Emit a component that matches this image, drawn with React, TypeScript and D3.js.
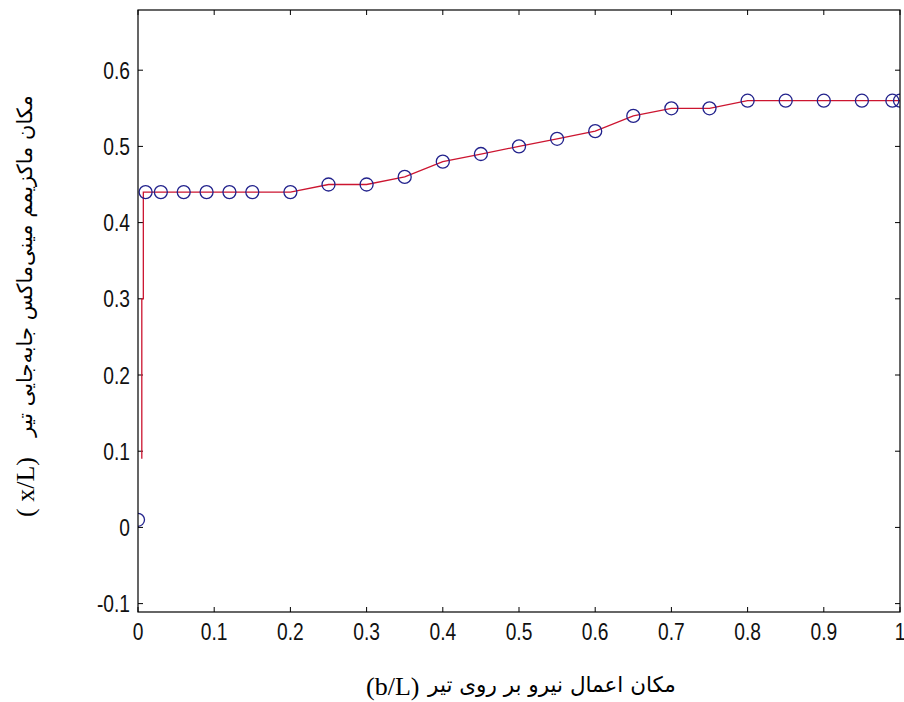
import React from "react";
import * as d3 from "d3";

// ---- data ----
const loadPos: number[] = [0, 0.01, 0.03, 0.06, 0.09, 0.12, 0.15, 0.2, 0.25, 0.3, 0.35, 0.4, 0.45, 0.5, 0.55, 0.6, 0.65, 0.7, 0.75, 0.8, 0.85, 0.9, 0.95, 0.99, 1.0];
const maxPos: number[] = [0.01, 0.44, 0.44, 0.44, 0.44, 0.44, 0.44, 0.44, 0.45, 0.45, 0.46, 0.48, 0.49, 0.5, 0.51, 0.52, 0.54, 0.55, 0.55, 0.56, 0.56, 0.56, 0.56, 0.56, 0.56];
// red curve starts slightly right of zero
const curveStartX: number[] = [0.005, 0.005, 0.007, 0.007];
const curveStartY: number[] = [0.09, 0.3, 0.3, 0.44];
const xTicks: number[] = [0, 0.1, 0.2, 0.3, 0.4, 0.5, 0.6, 0.7, 0.8, 0.9, 1];
const yTicks: number[] = [-0.1, 0, 0.1, 0.2, 0.3, 0.4, 0.5, 0.6];
const xDomain: [number, number] = [0, 1];
const yDomain: [number, number] = [-0.111, 0.679];
const xLabelFa = "مکان اعمال نیرو بر روی تیر";
const xLabelVar = "(b/L)";
const yLabelFa = "مکان ماکزیمم مینی‌ماکس جابه‌جایی تیر";
const yLabelVar = "( x/L)";

const W = 904;
const H = 702;
const L = 138, R = 900, T = 10, B = 612;

const fmt = (v: number) => {
  if (Math.abs(v) < 1e-9) return "0";
  if (Math.abs(v - 1) < 1e-9) return "1";
  return d3.format(".1f")(v).replace("\u2212", "-");
};

export default function App() {
  const x = d3.scaleLinear().domain(xDomain).range([L, R]);
  const y = d3.scaleLinear().domain(yDomain).range([B, T]);

  const redPts: [number, number][] = [
    ...curveStartX.map((v, i) => [v, curveStartY[i]] as [number, number]),
    ...loadPos.slice(1).map((v, i) => [v, maxPos[i + 1]] as [number, number]),
  ];
  const line = d3
    .line<[number, number]>()
    .x((d) => x(d[0]))
    .y((d) => y(d[1]))
    .curve(d3.curveLinear);

  const tickLen = 5;
  const tickFont = "'Liberation Sans', Arial, sans-serif";
  const faFont = "'DejaVu Sans', sans-serif";
  const serif = "'Liberation Serif', 'Times New Roman', serif";

  return (
    <svg
      width={W}
      height={H}
      style={{ position: "absolute", left: 0, top: 0, background: "#fff" }}
    >
      <rect x={0} y={0} width={W} height={H} fill="#fff" />
      <defs>
        <clipPath id="plotclip">
          <rect x={L} y={T} width={R - L} height={B - T} />
        </clipPath>
      </defs>

      {/* ticks */}
      {xTicks.map((t) => (
        <g key={"xt" + t}>
          <line x1={x(t)} x2={x(t)} y1={B} y2={B - tickLen} stroke="#000" strokeWidth={1} />
          <line x1={x(t)} x2={x(t)} y1={T} y2={T + tickLen} stroke="#000" strokeWidth={1} />
          <text
            transform={`translate(${x(t)},${B + 28}) scale(0.8,1)`}
            textAnchor="middle"
            fontFamily={tickFont}
            fontSize={24}
            fill="#111"
          >
            {fmt(t)}
          </text>
        </g>
      ))}
      {yTicks.map((t) => (
        <g key={"yt" + t}>
          <line x1={L} x2={L + tickLen} y1={y(t)} y2={y(t)} stroke="#000" strokeWidth={1} />
          <line x1={R} x2={R - tickLen} y1={y(t)} y2={y(t)} stroke="#000" strokeWidth={1} />
          <text
            transform={`translate(${L - 8},${y(t) + 8.5}) scale(0.8,1)`}
            textAnchor="end"
            fontFamily={tickFont}
            fontSize={24}
            fill="#111"
          >
            {fmt(t)}
          </text>
        </g>
      ))}

      {/* data */}
      <g clipPath="url(#plotclip)">
        <path d={line(redPts) || ""} fill="none" stroke="#cc1530" strokeWidth={1.3} />
        {loadPos.map((v, i) => (
          <circle
            key={"c" + i}
            cx={x(v)}
            cy={y(maxPos[i])}
            r={6.5}
            fill="none"
            stroke="#22228c"
            strokeWidth={1.3}
          />
        ))}
      </g>

      {/* frame */}
      <rect x={L} y={T} width={R - L} height={B - T} fill="none" stroke="#000" strokeWidth={1.2} />

      {/* x label */}
      <text x={366} y={695} textAnchor="start" fontFamily={serif} fontSize={26} fill="#000">
        {xLabelVar}
      </text>
      <text x={552} y={692} textAnchor="middle" fontFamily={faFont} fontSize={21.5} fill="#000">
        {xLabelFa}
      </text>

      {/* y label (rotated) */}
      <g transform={`translate(34, 0) rotate(-90)`}>
        <text x={-517} y={0} textAnchor="start" fontFamily={serif} fontSize={26} fill="#000">
          {yLabelVar}
        </text>
        <text x={-266} y={-2} textAnchor="middle" fontFamily={faFont} fontSize={21} fill="#000">
          {yLabelFa}
        </text>
      </g>
    </svg>
  );
}
